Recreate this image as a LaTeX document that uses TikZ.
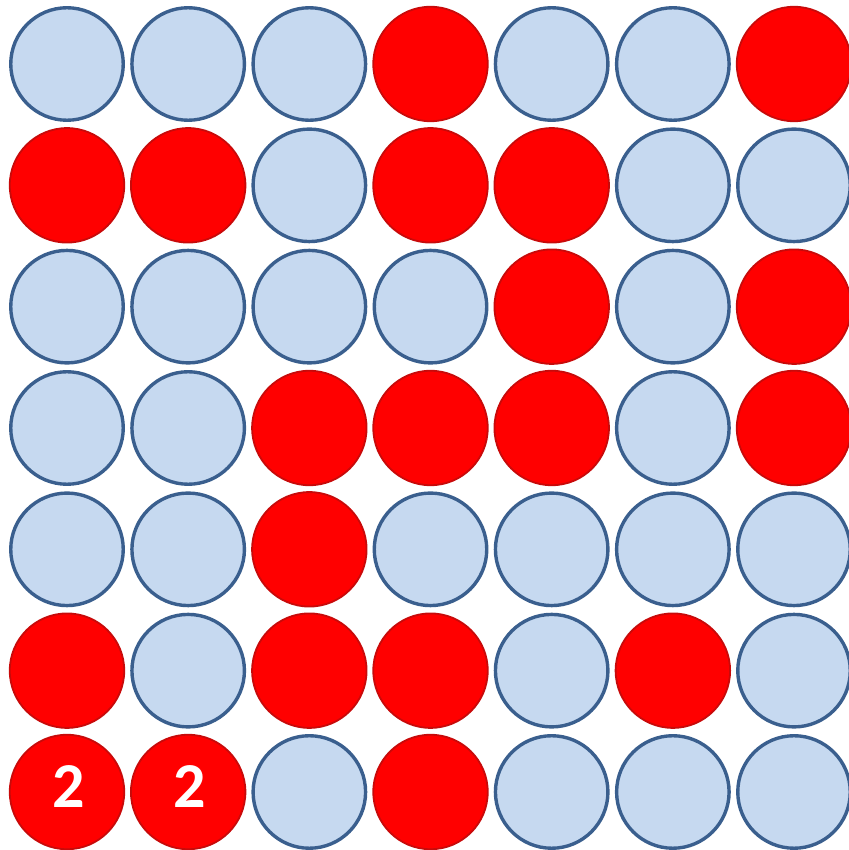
\documentclass[tikz,border=0pt]{standalone}
\usepackage{fontspec}
\setmainfont{Carlito}
\usetikzlibrary{positioning}
\definecolor{dotfill}{RGB}{198,217,240}
\definecolor{dotline}{RGB}{58,95,142}
\definecolor{hitfill}{RGB}{255,0,0}
\definecolor{hitline}{RGB}{200,10,10}
\begin{document}
\begin{tikzpicture}[x=1pt,y=1pt,yscale=-1,
  dotb/.style={circle,draw=dotline,fill=dotfill,line width=3.4pt,minimum size=112.5pt,inner sep=0pt},
  dotr/.style={circle,draw=hitline,fill=hitfill,line width=1.8pt,minimum size=114.5pt,inner sep=0pt},
  hitnum/.style={text=white,font=\bfseries\fontsize{64}{64}\selectfont,inner sep=0pt}]
\useasboundingbox (0,0) rectangle (848,850);
%Grid of dots, row by row
\foreach \row/\cols in {1/{b,b,b,r,b,b,r},2/{r,r,b,r,r,b,b},3/{b,b,b,b,r,b,r},4/{b,b,r,r,r,b,r},5/{b,b,r,b,b,b,b},6/{r,b,r,r,b,r,b},7/{r,r,b,r,b,b,b}}
  \foreach \c [count=\col] in \cols
    \node[dotb,dot\c] (c\row\col) at ({67+121.17*(\col-1)},{64+121.33*(\row-1)}) {};
%Numbers
\node[hitnum] (n71) at ([xshift=2pt,yshift=-5pt]c71) {2};
\node[hitnum] (n72) at ([xshift=2pt,yshift=-5pt]c72) {2};
\end{tikzpicture}
\end{document}
